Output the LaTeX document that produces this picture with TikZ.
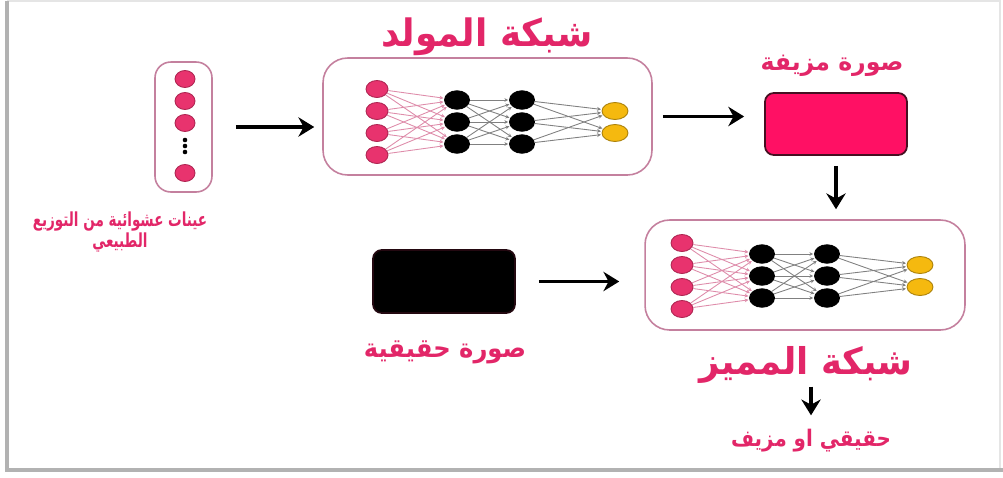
\documentclass[tikz,border=0pt]{standalone}
\usepackage{fontspec}
\usepackage{graphicx}
\usetikzlibrary{arrows.meta,shapes.geometric,positioning}
\TeXXeTstate=1
\newfontfamily\arabicfont[Script=Arabic]{DejaVu Sans}

\definecolor{gpink}{RGB}{232,51,110}
\definecolor{txtpink}{RGB}{226,38,104}
\definecolor{boxline}{RGB}{196,128,158}
\definecolor{linkpink}{RGB}{222,140,170}
\definecolor{outyellow}{RGB}{245,185,15}
\definecolor{fakefill}{RGB}{255,16,100}

% narrower Arabic lines
\newcommand{\artext}[2][0.82]{\scalebox{#1}[1]{\beginR #2\endR}}

\tikzset{
  unit/.style={ellipse, inner sep=0pt, minimum width=0.44cm, minimum height=0.34cm, line width=0.5pt},
  innode/.style={unit, fill=gpink, draw=gpink!75!black},
  hidnode/.style={unit, fill=black, draw=black, minimum width=0.5cm, minimum height=0.37cm},
  outnode/.style={unit, fill=outyellow, draw=outyellow!70!black, minimum width=0.52cm},
  netbox/.style={draw=boxline, line width=0.9pt, rounded corners=14pt, inner sep=0pt},
  flow/.style={line width=2.2pt, -{Stealth[length=9pt,width=11pt]}},
  link/.style={line width=0.5pt, shorten >=0.5pt, -{Stealth[length=2.2pt,width=2.2pt]}},
  lbl/.style={text=txtpink, font=\arabicfont\bfseries, align=center},
  % a small fully connected net: 4 inputs, two hidden layers of 3, 2 outputs
  pics/mlp/.style={code={
    \foreach \i/\y in {1/0,2/22,3/44,4/66} \node[innode] (-in\i) at (0,\y) {};
    \foreach \j/\y in {1/11,2/33,3/55} {
      \node[hidnode] (-ha\j) at (80,\y) {};
      \node[hidnode] (-hb\j) at (145,\y) {};
    }
    \foreach \k/\y in {1/22,2/44} \node[outnode] (-out\k) at (238,\y) {};
    \foreach \i in {1,...,4} \foreach \j in {1,2,3} \draw[link, linkpink] (-in\i) -- (-ha\j);
    \foreach \i in {1,2,3} \foreach \j in {1,2,3} \draw[link, gray] (-ha\i) -- (-hb\j);
    \foreach \i in {1,2,3} \foreach \k in {1,2} \draw[link, gray] (-hb\i) -- (-out\k);
  }}
}

\begin{document}
\begin{tikzpicture}[x=0.02cm, y=-0.02cm]
\useasboundingbox (0,0) rectangle (1003,477);
% page frame with its shadow
\draw[gray!20, line width=0.03cm] (7,1) -- (1000,1) -- (1000,470);
\draw[gray!60, line width=0.08cm] (7,1) -- (7,470) -- (1003,470);

% noise vector
\node[netbox, rounded corners=9pt, minimum width=1.14cm, minimum height=2.6cm] (col) at (183.5,127) {};
\foreach \i/\y in {1/79,2/101,3/123,4/173}
  \node[innode, minimum width=0.4cm, minimum height=0.34cm] (z\i) at (185,\y) {};
\foreach \y in {140,146,152} \fill (185,\y) circle (1.3pt);
\node[lbl, font=\arabicfont\bfseries\fontsize{11}{12.5}\selectfont] (noise) at (120,232)
  {\artext[0.7]{عينات عشوائية من التوزيع}\\\artext[0.7]{الطبيعي}};

% generator
\node[netbox, minimum width=6.58cm, minimum height=2.34cm] (gen) at (487.5,116.5) {};
\pic (gen) at (377,89) {mlp};
\node[lbl, font=\arabicfont\bfseries\fontsize{21.5}{25}\selectfont] (genlabel) at (487,37) {\artext[0.95]{شبكة المولد}};

% generated image
\node[draw=black!70!gpink, line width=1pt, fill=fakefill, rounded corners=5pt,
  minimum width=2.84cm, minimum height=1.24cm] (fake) at (836,124) {};
\node[lbl, font=\arabicfont\bfseries\fontsize{14}{17}\selectfont] (fakelabel) at (832,66) {\artext[0.96]{صورة مزيفة}};

% real image
\node[draw=black!85!gpink, line width=1pt, fill=black, rounded corners=5pt,
  minimum width=2.84cm, minimum height=1.26cm] (real) at (444,281.5) {};
\node[lbl, font=\arabicfont\bfseries\fontsize{15}{18}\selectfont] (reallabel) at (445,352) {\artext[0.92]{صورة حقيقية}};

% discriminator
\node[netbox, minimum width=6.4cm, minimum height=2.2cm] (disc) at (805,275) {};
\pic (disc) at (682,243) {mlp};
\node[lbl, font=\arabicfont\bfseries\fontsize{21}{25}\selectfont] (disclabel) at (806,365) {\artext[0.96]{شبكة المميز}};
\node[lbl, font=\arabicfont\bfseries\fontsize{13}{16}\selectfont] (verdict) at (811,441) {\artext[0.87]{حقيقي او مزيف}};

% connectors
\draw[flow, shorten <=0.46cm, shorten >=0.16cm] (col) -- (col -| gen.west);
\draw[flow, shorten <=0.2cm, shorten >=0.4cm] (gen.east) -- (gen.east -| fake.west);
\draw[flow, shorten <=0.2cm, shorten >=0.2cm] (fake.south) -- (fake.south |- disc.north);
\draw[flow, shorten <=0.46cm, shorten >=0.5cm] (real.east) -- (real.east -| disc.west);
\draw[flow, shorten <=-0.06cm, shorten >=0.16cm] (disclabel.south -| verdict.north) -- (verdict.north);
\end{tikzpicture}
\end{document}
